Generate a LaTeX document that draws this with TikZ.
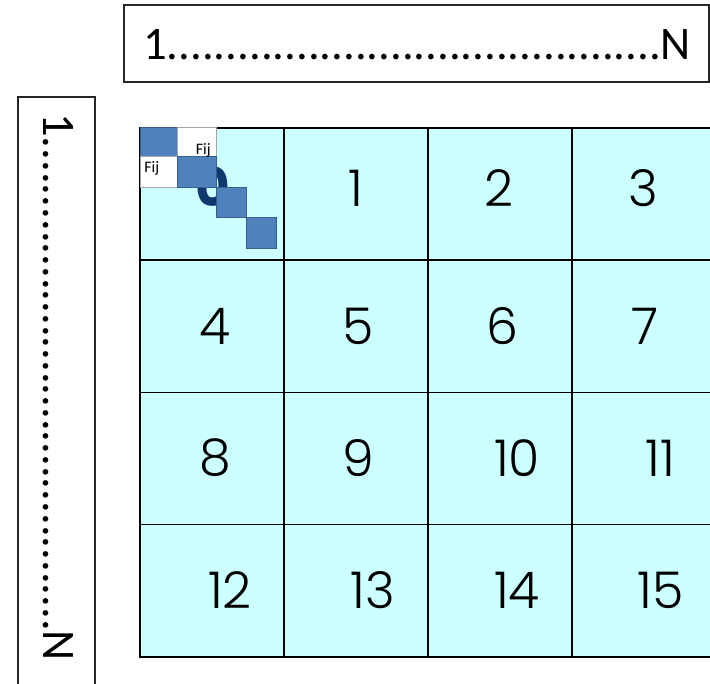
\documentclass[tikz,border=0pt]{standalone}
\usepackage{fontspec}
\setmainfont{Carlito}
\IfFontExistsTF{Poppins-Light.ttf}{\newfontfamily\numfont{Poppins-Light.ttf}}{%
  \IfFontExistsTF{Poppins Light}{\newfontfamily\numfont{Poppins Light}}{%
    \IfFontExistsTF{Poppins-ExtraLight.ttf}{\newfontfamily\numfont{Poppins-ExtraLight.ttf}}{%
      \newfontfamily\numfont{Poppins}}}}
\newfontfamily\zerofont{Poppins}
\definecolor{cellfill}{RGB}{204,255,255}
\definecolor{sqfill}{RGB}{79,129,189}
\definecolor{sqline}{RGB}{56,93,138}
\definecolor{zeroblue}{RGB}{16,55,110}
\tikzset{
  cellbox/.style={draw=black, fill=cellfill, line width=1.2pt, anchor=north west, inner sep=0pt,
    minimum width=108pt, minimum height=99.19pt},
  numtxt/.style={font=\numfont\fontsize{38}{40}\selectfont, inner sep=0pt},
  sq/.style={draw=sqline, fill=sqfill, line width=0.5pt},
  wsq/.style={draw=gray!70, fill=white, line width=0.5pt},
  fij/.style={font=\fontsize{12}{14}\selectfont, inner sep=0pt},
  outerbox/.style={draw=black!85, line width=1.1pt, fill=white},
  rowtxt/.style={font=\fontsize{35}{37}\selectfont, inner sep=0pt}
}
\begin{document}
\begin{tikzpicture}[x=0.75pt,y=-0.75pt]
\useasboundingbox (0,0) rectangle (710,684);
\clip (0,0) rectangle (710,684);
% header boxes
\draw[outerbox] (124,5) rectangle (709,82);
\node[rowtxt, anchor=base west] (toprow) at (143,60) {1..........................................N};
\draw[outerbox] (18,97) rectangle (95,690);
\node[rowtxt, anchor=base west, rotate=-90] (leftrow) at (43,113) {1..........................................N};
% grid cells
\foreach \r in {0,...,3}{
  \foreach \c in {0,...,3}{
    \node[cellbox] (cell\r\c) at ({139+144*\c},{127+132.25*\r}) {};
  }
}
% numbers
\node[font=\zerofont\bfseries\fontsize{40}{42}\selectfont, text=zeroblue, inner sep=0pt] (n0) at (213,187) {0};
\foreach \n/\x/\y in {1/356/188,2/499/188,3/643/188,
  4/215/326,5/358/326,6/502/326,7/645/326,
  8/215/458,9/358/458,10/517/458,11/660/458,
  12/230/590,13/373/590,14/517/590,15/661/590}{
  \node[numtxt] (n\n) at (\x,\y) {\n};
}
% diagonal blocks
\draw[sq] (140,127) rectangle (177,156);
\draw[wsq] (177,127) rectangle (216,156);
\draw[wsq] (140,156) rectangle (177,187);
\draw[sq] (177,156) rectangle (216,187);
\draw[sq] (216,187) rectangle (246,217);
\draw[sq] (246,217) rectangle (276,248);
\node[fij, anchor=base east] (fij1) at (211,155) {Fij};
\node[fij, anchor=base west] (fij2) at (144,173) {Fij};
\end{tikzpicture}
\end{document}
